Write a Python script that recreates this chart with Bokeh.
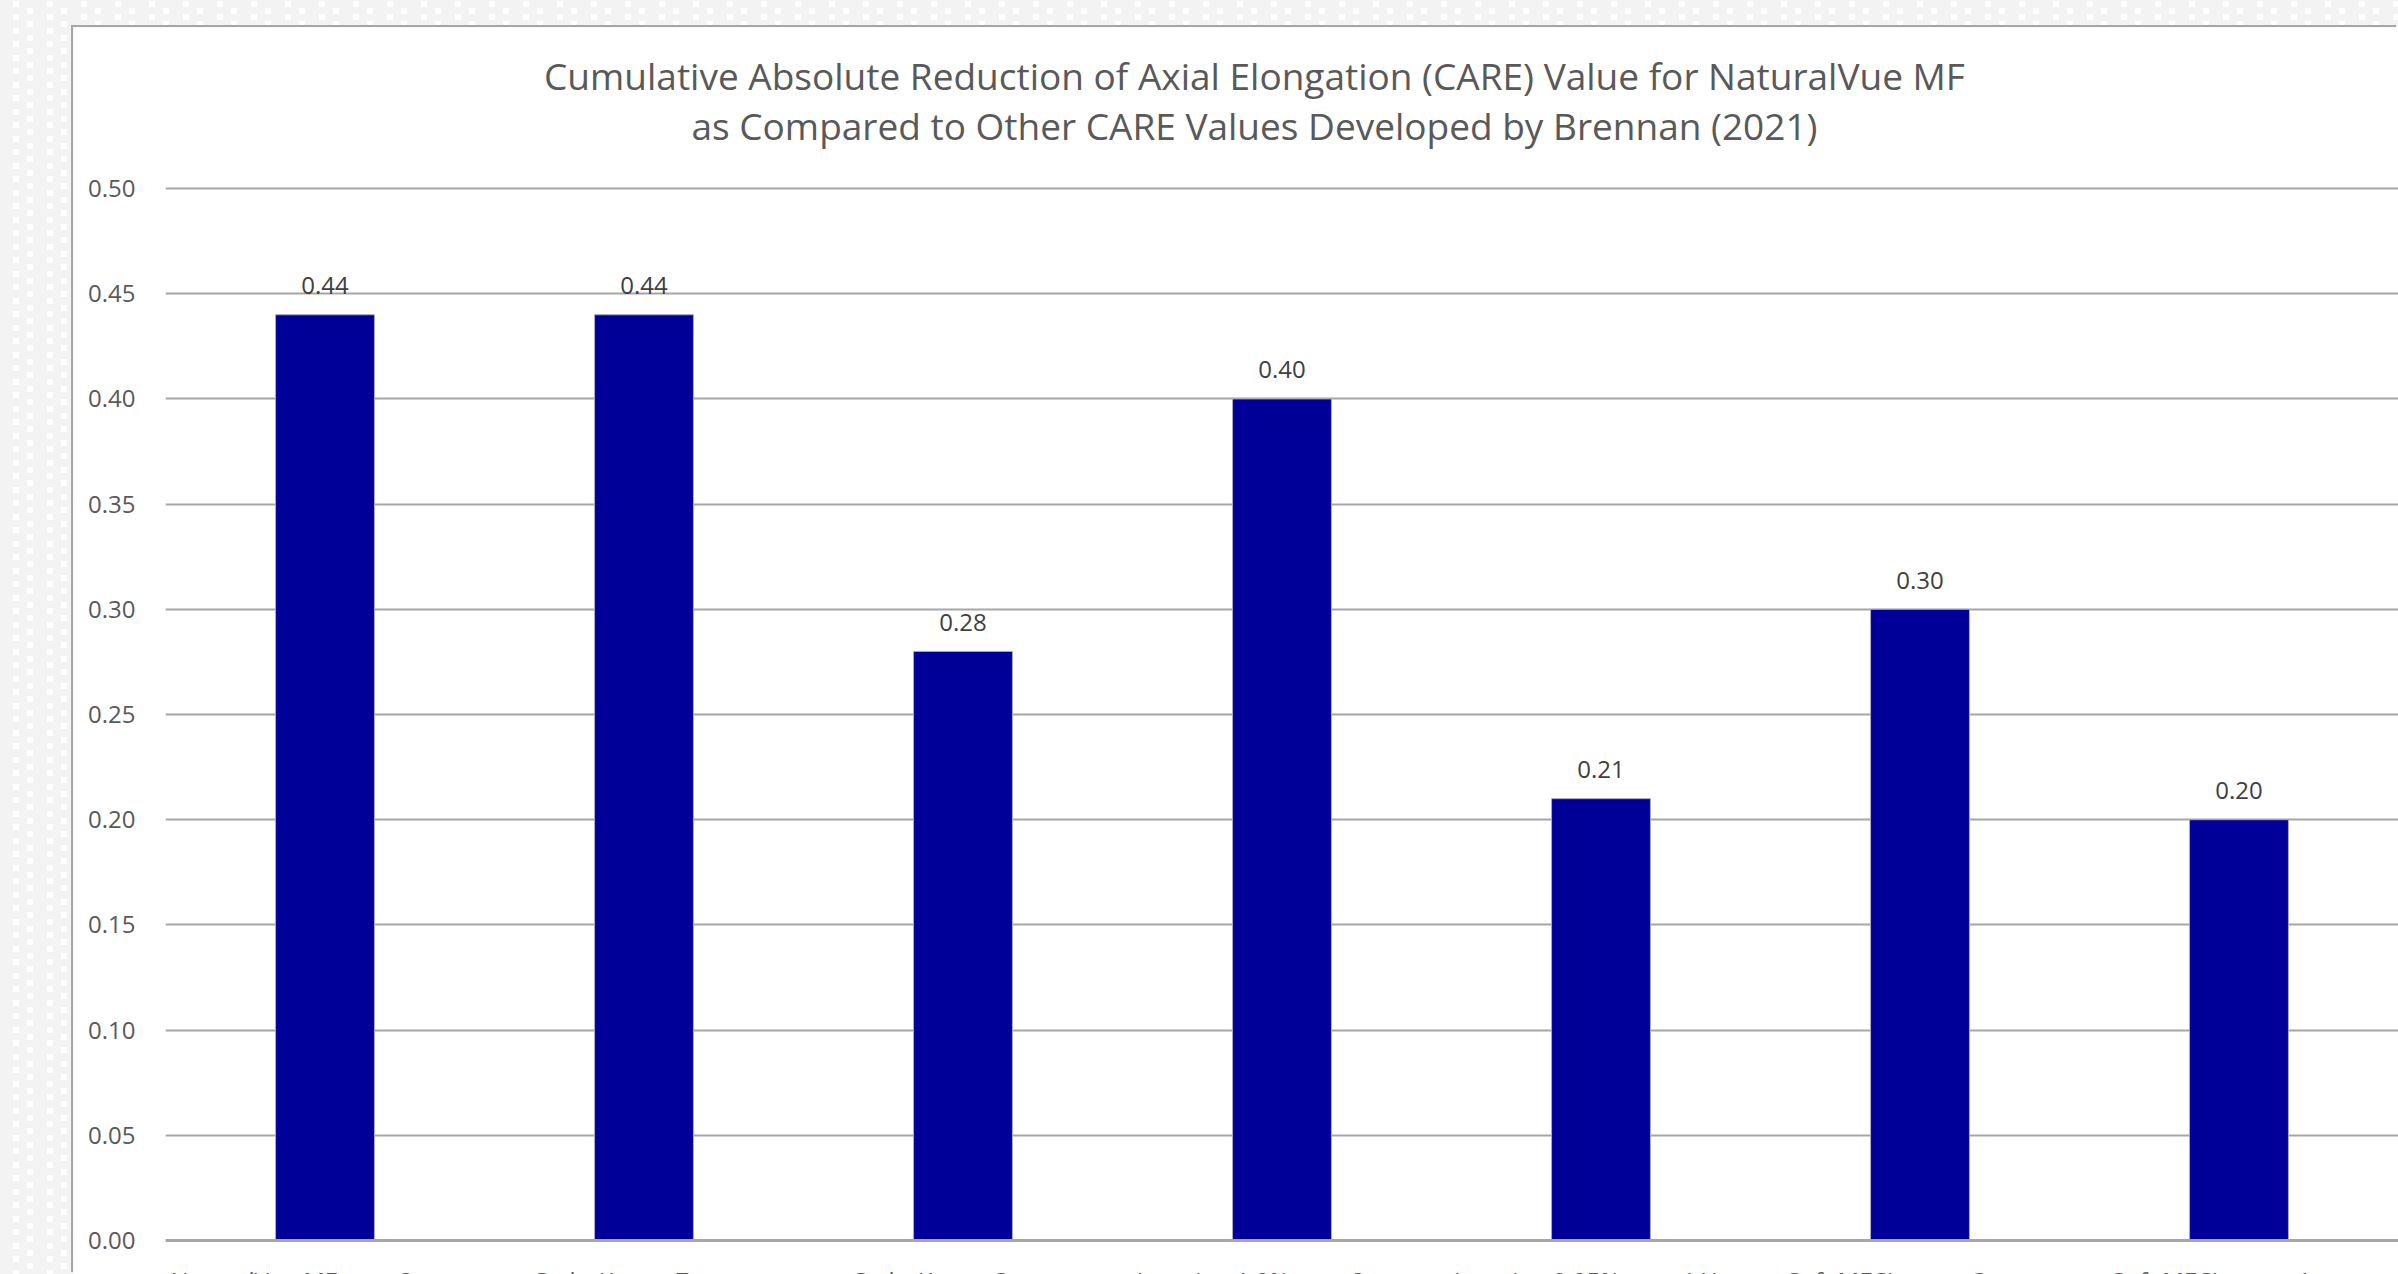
from bokeh.plotting import figure
from bokeh.models import (FactorRange, Range1d, FixedTicker, NumeralTickFormatter,
                          Span, Label, Column)
from bokeh.core.properties import value
from bokeh.embed import file_html
from bokeh.resources import INLINE

# ---------------- data ----------------
categories = [
    "NaturalVue MF over 3 years",
    "OrthoK over 7 years",
    "OrthoK over 3 years",
    "Atropine 1.0% over 2 years",
    "Atropine 0.05% over 1 Year",
    "Soft MFCLs over 3 years",
    "Soft MFCLs over 1 year",
]
care_values = [0.44, 0.44, 0.28, 0.40, 0.21, 0.30, 0.20]
y_ticks = [0.00, 0.05, 0.10, 0.15, 0.20, 0.25, 0.30, 0.35, 0.40, 0.45, 0.50]
title_line1 = "Cumulative Absolute Reduction of Axial Elongation (CARE) Value for NaturalVue MF"
title_line2 = "as Compared to Other CARE Values Developed by Brennan (2021)"

# ---------------- geometry (page pixels) ----------------
W, H = 2398, 1274
chart_left, chart_top = 73, 27
fig_w, fig_h = W - chart_left, H - chart_top
plot_left = 165                     # left edge of the plotting area
zero_page = 1240                    # page y of value 0
top_page = 188                      # page y of value 0.5
per_px = 0.5 / (zero_page - top_page)
y_start = -(H - zero_page) * per_px
y_end = 0.5 + (top_page - chart_top) * per_px

title_cx = 1254                     # page x of the title centre
title_baselines = [75, 125]         # page y of the two title baselines

FONT = "Open Sans"

p = figure(
    x_range=FactorRange(factors=categories, range_padding=0),
    y_range=Range1d(y_start, y_end),
    width=fig_w, height=fig_h,
    output_backend="svg", toolbar_location=None, tools="",
    x_axis_location=None,
    min_border_left=plot_left - chart_left, min_border_top=0,
    min_border_right=0, min_border_bottom=0,
)
p.margin = (chart_top, 0, 0, chart_left)
p.styles = {"box-shadow": "-2px -2px 0 0 #a6a6a6"}
p.background_fill_color = "white"
p.border_fill_color = "white"
p.outline_line_color = None

# two-line chart title, centred over the chart area
for txt, base in zip([title_line1, title_line2], title_baselines):
    p.add_layout(Label(x=title_cx - plot_left, x_units="screen",
                       y=(zero_page - base) * per_px, y_units="data",
                       text=txt, text_align="center", text_baseline="alphabetic",
                       text_font=FONT, text_font_size="37px", text_color="#595959"))

# y axis
ticker = FixedTicker(ticks=y_ticks)
yax = p.yaxis[0]
yax.ticker = ticker
yax.formatter = NumeralTickFormatter(format="0.00")
yax.axis_line_color = None
yax.major_tick_line_color = None
yax.minor_tick_line_color = None
yax.major_label_standoff = 24
yax.major_label_text_font = FONT
yax.major_label_text_font_size = "24px"
yax.major_label_text_color = "#595959"

p.ygrid.ticker = ticker
p.ygrid.grid_line_color = "#a6a6a6"
p.ygrid.grid_line_width = 2
p.xgrid.grid_line_color = None

# bars
p.vbar(x=categories, top=care_values, width=0.31,
       fill_color="#000099", line_color="#a8a8c0", line_width=1)

# zero line
p.add_layout(Span(location=0, dimension="width", line_color="#a6a6a6", line_width=3))

# data labels
p.text(x=categories, y=care_values, text=[f"{v:.2f}" for v in care_values],
       text_align="center", text_baseline="alphabetic", y_offset=-29,
       text_font=value(FONT), text_font_size="24px", text_color="#404040")

# category labels (drawn through the same x scale, just below y = 0)
p.text(x=categories, y=[0] * len(categories), text=categories,
       text_align="center", text_baseline="top", y_offset=23,
       text_font=value(FONT), text_font_size="24px", text_color="#595959")

pattern = ("url(\"data:image/svg+xml;utf8,"
           "<svg xmlns='http://www.w3.org/2000/svg' width='34' height='27'>"
           "<rect width='34' height='27' fill='%23f3f3f3'/>"
           "<rect x='13' y='1' width='6' height='6' fill='white'/>"
           "<rect x='13' y='14' width='6' height='6' fill='white'/>"
           "<rect x='27' y='8' width='6' height='6' fill='white'/>"
           "<rect x='27' y='21' width='6' height='6' fill='white'/>"
           "</svg>\")")

root = Column(children=[p], width=W, height=H,
              styles={"background-color": "#f3f3f3", "background-image": pattern,
                      "overflow": "hidden"})

open("out.html", "w").write(file_html(root, INLINE))
